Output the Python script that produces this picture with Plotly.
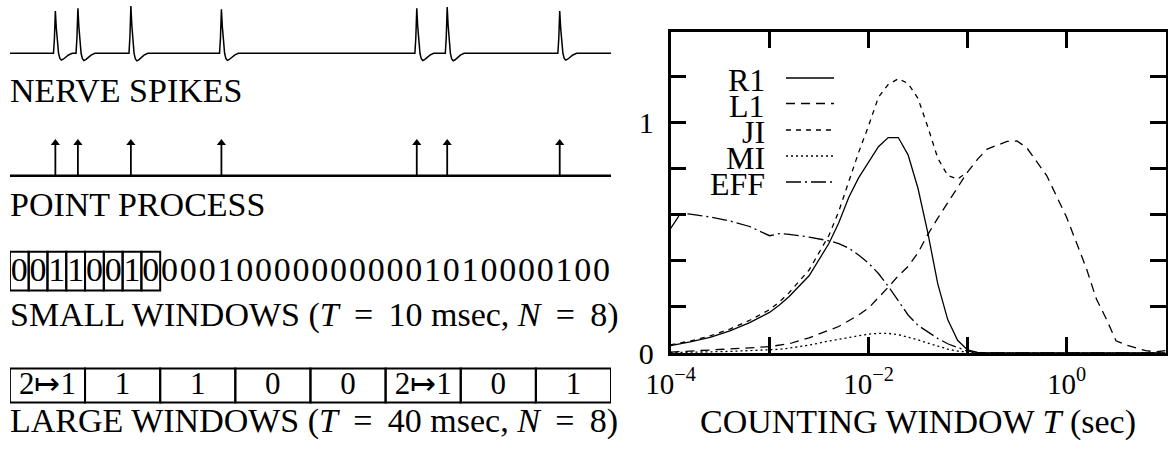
import plotly.graph_objects as go

# ---------------- DATA ----------------
# left panel: spike train over a 320 ms record
record_ms = 320
spike_times_ms = [24.2, 36.2, 64.4, 112.6, 216.6, 232.8, 292.7]
spike_rel_amp = [0.94, 1.0, 1.05, 0.98, 1.0, 1.03, 0.94]
# spike waveform template (offset from peak in ms, normalized height)
spike_shape_offsets_ms = [-1.0, -0.5, 0.0, 0.5, 1.0, 1.7, 2.4, 3.2, 4.2, 5.5, 7.0, 9.0]
spike_shape_profile = [0.0, 0.35, 1.0, 0.6, 0.25, 0.0, -0.12, -0.16, -0.14, -0.09, -0.04, 0.0]

small_T_ms = 10
large_T_ms = 40
n_boxed = 8
small_window_counts = list("00110010000100000000001010000100")
large_window_labels = ["2\u21a61", "1", "1", "0", "0", "2\u21a61", "0", "1"]

# right panel: information measures vs counting window T (sec)
T_sec = [1.0e-4, 1.26e-4, 1.58e-4, 2.51e-4, 3.98e-4, 6.31e-4, 1.0e-3, 1.26e-3, 1.58e-3,
         2.51e-3, 3.98e-3, 5.01e-3, 6.31e-3, 7.94e-3, 1.0e-2, 1.26e-2, 1.58e-2, 2.0e-2,
         2.51e-2, 3.16e-2, 3.98e-2, 5.01e-2, 6.31e-2, 7.94e-2, 0.1, 0.126, 0.158, 0.251,
         0.316, 0.398, 0.631, 1.0, 1.26, 1.58, 2.0, 2.51, 3.16, 3.98, 6.31, 7.94, 10.0]
R1 = [0.032, 0.040, 0.048, 0.068, 0.096, 0.132, 0.176, 0.208, 0.245, 0.335, 0.475, 0.565,
      0.675, 0.76, 0.825, 0.895, 0.935, 0.935, 0.86, 0.715, 0.52, 0.30, 0.145, 0.055,
      0.013, 0.003, 0.0, 0.0, 0.0, 0.0, 0.0, 0.0, 0.0, 0.0, 0.0, 0.0, 0.0, 0.0, 0.0, 0.0, 0.0]
L1 = [0.004, 0.006, 0.008, 0.012, 0.017, 0.022, 0.028, 0.033, 0.040, 0.066, 0.098, 0.115,
      0.14, 0.165, 0.195, 0.24, 0.285, 0.335, 0.375, 0.435, 0.515, 0.585, 0.65, 0.715,
      0.785, 0.84, 0.885, 0.918, 0.92, 0.89, 0.77, 0.59, 0.48, 0.37, 0.235, 0.15, 0.053,
      0.035, 0.01, 0.005, 0.01]
JI = [0.035, 0.043, 0.052, 0.074, 0.104, 0.142, 0.188, 0.222, 0.262, 0.36, 0.51, 0.615,
      0.745, 0.87, 0.985, 1.11, 1.165, 1.19, 1.17, 1.105, 0.98, 0.845, 0.77, 0.755,
      0.785, None, None, None, None, None, None, None, None, None, None, None, None,
      None, None, None, None]
MI = [0.002, 0.002, 0.003, 0.005, 0.007, 0.010, 0.013, 0.016, 0.021, 0.034, 0.052, 0.060,
      0.068, 0.076, 0.082, 0.085, 0.085, 0.080, 0.070, 0.057, 0.043, 0.030, 0.017, 0.008,
      0.003, 0.001, 0.0, 0.0, 0.0, 0.0, 0.0, 0.0, 0.0, 0.0, 0.0, 0.0, 0.0, 0.0, 0.0, 0.0, 0.0]
EFF = [0.54, 0.605, 0.603, 0.590, 0.573, 0.549, 0.509, 0.518, 0.515, 0.503, 0.487, 0.475,
       0.455, 0.425, 0.39, 0.345, 0.29, 0.225, 0.165, 0.12, 0.09, 0.063, 0.04, 0.024,
       0.008, 0.002, 0.0, 0.0, 0.0, 0.0, 0.0, 0.0, 0.0, 0.0, 0.0, 0.0, 0.0, 0.0, 0.0, 0.0, 0.0]

# labelled ticks; every decade / every 0.2 also gets an unlabelled tick mark
x_tickvals = [1e-4, 1e-2, 1e0]
x_ticktext = ["10<sup>\u22124</sup>", "10<sup>\u22122</sup>", "10<sup>0</sup>"]
x_minor_dtick = 1      # one decade
y_tickvals = [0, 1.0]
y_ticktext = ["0", "1"]
y_minor_dtick = 0.2

series = [("R1", R1, "solid"), ("L1", L1, "9px,6px"), ("JI", JI, "5px,5px"),
          ("MI", MI, "2px,3px"), ("EFF", EFF, "15px,4px,2px,4px")]

# ---------------- LAYOUT CONSTANTS ----------------
W, H = 1168, 449
FONT = "Liberation Serif"
BLK = "black"


def px(v):
    return v / W


def py(v):
    return (H - v) / H


fig = go.Figure()

# ---- right panel curves ----
for name, vals, dash in series:
    fig.add_trace(go.Scatter(x=T_sec, y=vals, mode="lines", name=name,
                             line=dict(color=BLK, width=1.3, dash=dash),
                             xaxis="x", yaxis="y", showlegend=False, hoverinfo="skip"))

# ---- left panel: nerve spikes ----
spike_base = 53.3
spike_height = 45.0
sx, sy = [0.0], [spike_base]
for t, a in zip(spike_times_ms, spike_rel_amp):
    for off, s in zip(spike_shape_offsets_ms, spike_shape_profile):
        sx.append(t + off)
        sy.append(spike_base - a * spike_height * s)
sx.append(record_ms)
sy.append(spike_base)
fig.add_trace(go.Scatter(x=sx, y=sy, mode="lines", line=dict(color=BLK, width=1.5),
                         xaxis="x2", yaxis="y2", showlegend=False, hoverinfo="skip"))

# ---- point process ----
pp_base = 175.7
pp_tip = 140.0
fig.add_trace(go.Scatter(x=[0, record_ms], y=[pp_base, pp_base], mode="lines",
                         line=dict(color=BLK, width=2.5), xaxis="x2", yaxis="y2",
                         showlegend=False, hoverinfo="skip"))
ax_, ay_ = [], []
for t in spike_times_ms:
    ax_ += [t, t, None]
    ay_ += [pp_base, pp_tip + 3, None]
fig.add_trace(go.Scatter(x=ax_, y=ay_, mode="lines", line=dict(color=BLK, width=1.8),
                         xaxis="x2", yaxis="y2", showlegend=False, hoverinfo="skip"))
fig.add_trace(go.Scatter(x=spike_times_ms, y=[pp_tip + 3] * len(spike_times_ms), mode="markers",
                         marker=dict(symbol="triangle-up", size=8, color=BLK),
                         xaxis="x2", yaxis="y2", showlegend=False, hoverinfo="skip"))

# ---- small windows ----
sw_top, sw_bot = 251.7, 290.5
fig.add_trace(go.Scatter(x=[small_T_ms * (i + 0.5) for i in range(len(small_window_counts))],
                         y=[272] * len(small_window_counts), mode="text",
                         text=small_window_counts,
                         textfont=dict(family=FONT, size=34, color=BLK),
                         xaxis="x2", yaxis="y2", showlegend=False, hoverinfo="skip"))
shapes = []
for i in range(n_boxed):
    shapes.append(dict(type="rect", xref="x2", yref="y2", x0=i * small_T_ms,
                       x1=(i + 1) * small_T_ms, y0=sw_top, y1=sw_bot,
                       line=dict(color=BLK, width=2)))

# ---- large windows ----
lw_top, lw_bot = 368.5, 402.5
fig.add_trace(go.Scatter(x=[large_T_ms * (i + 0.5) for i in range(len(large_window_labels))],
                         y=[386] * len(large_window_labels), mode="text",
                         text=large_window_labels,
                         textfont=dict(family=FONT, size=31, color=BLK),
                         xaxis="x2", yaxis="y2", showlegend=False, hoverinfo="skip"))
for i in range(len(large_window_labels)):
    shapes.append(dict(type="rect", xref="x2", yref="y2", x0=i * large_T_ms,
                       x1=(i + 1) * large_T_ms, y0=lw_top, y1=lw_bot,
                       line=dict(color=BLK, width=2)))

# ---- left panel captions ----
annotations = []
eq = "\u2009 = \u2009"
captions = [("NERVE SPIKES", 91), ("POINT PROCESS", 204),
            ("SMALL WINDOWS (<i>T</i>" + eq + "10 msec, <i>N</i>" + eq + "8)", 315),
            ("LARGE WINDOWS (<i>T</i>" + eq + "40 msec, <i>N</i>" + eq + "8)", 421)]
for txt, yc in captions:
    annotations.append(dict(text=txt, xref="paper", yref="paper", x=px(8), y=py(yc),
                            xanchor="left", yanchor="middle", showarrow=False,
                            font=dict(family=FONT, size=34, color=BLK)))

# ---- right panel legend (labels right-aligned, then line sample) ----
leg_rows = [79, 104.5, 131, 157, 183]
for (name, vals, dash), yc in zip(series, leg_rows):
    annotations.append(dict(text=name, xref="paper", yref="paper", x=px(767), y=py(yc + 1),
                            xanchor="right", yanchor="middle", showarrow=False,
                            font=dict(family=FONT, size=32, color=BLK)))
    shapes.append(dict(type="line", xref="paper", yref="paper", x0=px(786), x1=px(834),
                       y0=py(yc - 1), y1=py(yc - 1), line=dict(color=BLK, width=1.3, dash=dash)))

# ---- x axis title ----
annotations.append(dict(text="COUNTING WINDOW <i>T</i> (sec)", xref="paper", yref="paper",
                        x=px(918), y=py(422), xanchor="center", yanchor="middle",
                        showarrow=False, font=dict(family=FONT, size=34, color=BLK)))

tick_style = dict(ticks="inside", ticklen=16, tickwidth=2.6, tickcolor=BLK, showgrid=False)
axis_common = dict(showline=True, linecolor=BLK, linewidth=2.6, mirror="ticks",
                   zeroline=False, automargin=False, **tick_style)

fig.update_layout(
    width=W, height=H,
    margin=dict(l=0, r=0, t=0, b=0),
    paper_bgcolor="white", plot_bgcolor="white",
    showlegend=False,
    xaxis=dict(type="log", range=[-4, 1], domain=[px(670.5), px(1165.5)],
               tickvals=x_tickvals, ticktext=x_ticktext, anchor="y",
               minor=dict(dtick=x_minor_dtick, tick0=0, **tick_style),
               tickfont=dict(family=FONT, size=29, color=BLK), ticklabelstandoff=3,
               **axis_common),
    yaxis=dict(range=[0, 1.393], domain=[py(353), py(32)], anchor="x",
               tickvals=y_tickvals, ticktext=y_ticktext,
               minor=dict(dtick=y_minor_dtick, tick0=0, **tick_style),
               tickfont=dict(family=FONT, size=30, color=BLK), ticklabelstandoff=8,
               **axis_common),
    xaxis2=dict(range=[0, record_ms], domain=[px(9.9), px(611)], visible=False,
                anchor="y2", fixedrange=True),
    yaxis2=dict(range=[H, 0], domain=[0, 1], visible=False, anchor="x2", fixedrange=True),
    shapes=shapes,
    annotations=annotations,
)

fig.write_html("out.html", config={"displayModeBar": False},
               post_script="document.body.style.margin='0px';document.body.style.overflow='hidden';")
